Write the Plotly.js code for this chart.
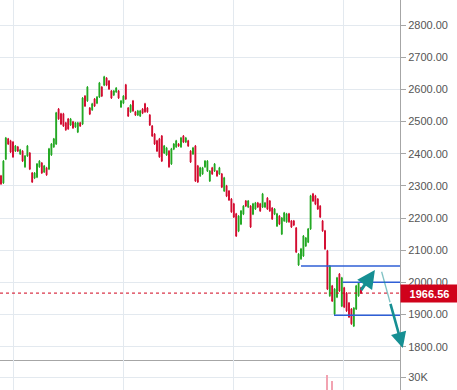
<!DOCTYPE html>
<html><head><meta charset="utf-8">
<script src="https://cdn.plot.ly/plotly-3.0.1.min.js"></script>
<style>html,body{margin:0;padding:0;background:#fff;}#chart{width:457px;height:390px;}</style>
</head><body><div id="chart"></div>
<script>
const openP = [
2331,2309,2383,2446,2440,2436,2408,2421,2399,2408,
2359,2393,2402,2340,2324,2327,2359,2371,2343,2356,
2352,2396,2421,2430,2539,2524,2524,2496,2508,2489,
2499,2483,2467,2496,2492,2579,2564,2542,2536,2570,
2557,2576,2607,2613,2635,2626,2595,2582,2592,2595,
2545,2557,2614,2542,2530,2564,2530,2520,2517,2539,
2555,2542,2520,2486,2461,2440,2446,2455,2402,2396,
2408,2368,2414,2421,2430,2421,2455,2436,2440,2408,
2399,2424,2362,2331,2337,2359,2346,2315,2356,2346,
2346,2337,2337,2284,2300,2284,2259,2244,2213,2159,
2181,2212,2253,2234,2237,2212,2228,2247,2244,2234,
2234,2262,2253,2231,2212,2175,2206,2150,2191,2188,
2213,2191,2191,2169,2054,2073,2082,2113,2125,2166,
2275,2269,2259,2237,2191,2160,2098,1958,1989,1901,
1954,2026,1926,1983,1967,1936,1917,1864,1917,1958,
1983];
const highP = [
2334,2380,2452,2449,2443,2439,2427,2424,2415,2411,
2396,2427,2405,2343,2343,2371,2380,2374,2365,2359,
2418,2433,2449,2530,2542,2527,2527,2499,2511,2511,
2502,2499,2499,2499,2576,2582,2610,2545,2558,2573,
2579,2623,2610,2642,2638,2629,2598,2598,2607,2598,
2567,2582,2617,2545,2554,2567,2533,2536,2536,2542,
2558,2545,2523,2489,2464,2443,2449,2458,2427,2421,
2411,2418,2433,2443,2433,2452,2458,2452,2443,2411,
2421,2427,2365,2359,2359,2380,2380,2349,2359,2371,
2349,2359,2340,2328,2303,2287,2262,2247,2216,2209,
2225,2240,2256,2256,2240,2247,2250,2250,2247,2278,
2250,2265,2256,2234,2231,2216,2209,2203,2219,2216,
2216,2194,2194,2172,2091,2107,2147,2141,2169,2272,
2278,2272,2262,2240,2194,2163,2101,2054,1992,1982,
2017,2029,2017,1986,1970,1939,1920,1923,1992,2001,
1986];
const lowP = [
2303,2306,2380,2427,2402,2387,2405,2405,2396,2374,
2356,2390,2349,2309,2321,2324,2356,2337,2340,2331,
2349,2393,2418,2427,2505,2489,2483,2471,2474,2486,
2477,2480,2464,2483,2489,2545,2561,2520,2533,2545,
2554,2573,2576,2610,2610,2598,2570,2579,2589,2570,
2542,2554,2567,2514,2527,2530,2517,2517,2514,2523,
2527,2527,2486,2452,2427,2405,2387,2374,2399,2393,
2356,2365,2411,2418,2421,2418,2433,2433,2421,2371,
2396,2312,2309,2328,2334,2356,2343,2312,2334,2343,
2328,2334,2293,2281,2265,2253,2216,2200,2141,2156,
2178,2209,2234,2231,2169,2209,2225,2231,2219,2231,
2231,2225,2219,2194,2209,2172,2178,2147,2188,2185,
2185,2169,2175,2091,2051,2070,2079,2110,2122,2163,
2250,2240,2225,2200,2157,2101,1976,1955,1939,1898,
1951,1970,1923,1920,1908,1889,1868,1861,1914,1955,
1964];
const closeP = [
2306,2377,2449,2430,2405,2390,2424,2408,2412,2377,
2393,2424,2352,2312,2340,2368,2377,2340,2362,2334,
2415,2430,2446,2527,2508,2492,2486,2474,2477,2508,
2480,2496,2496,2486,2573,2548,2607,2523,2555,2548,
2576,2620,2579,2639,2613,2601,2573,2595,2604,2573,
2564,2579,2570,2517,2551,2533,2520,2533,2533,2526,
2530,2530,2489,2455,2430,2408,2390,2377,2424,2418,
2359,2415,2430,2440,2424,2449,2436,2449,2424,2374,
2418,2315,2312,2356,2356,2377,2377,2346,2337,2368,
2331,2356,2296,2325,2268,2256,2219,2203,2144,2206,
2222,2237,2237,2253,2172,2244,2247,2234,2222,2275,
2247,2228,2222,2197,2228,2213,2181,2200,2216,2213,
2188,2172,2178,2094,2088,2104,2144,2138,2166,2269,
2253,2243,2228,2203,2160,2104,1979,2051,1942,1979,
2014,1973,2014,1923,1911,1892,1871,1920,1989,1998,
1966.56];
const volume = [
14200,15800,17100,12300,11800,13400,10900,9800,11200,12600,
13100,12800,14900,15300,11700,12200,10600,11900,10400,12800,
15600,14100,13300,19800,16200,12900,13700,11800,10900,11400,
10700,9900,12100,10300,17600,14800,15900,12400,11300,12700,
10800,16400,13200,14600,13900,12100,13800,10600,11200,12900,
13500,11700,14300,15100,12200,13600,11900,10300,10800,11600,
12400,11100,14700,16300,15200,14100,16800,17400,12900,11800,
15100,13600,11200,10900,9800,12300,11400,10600,11700,15600,
12100,18900,16700,12600,11300,12200,12800,13400,11100,10900,
11600,10400,14800,15200,16100,15400,17300,16600,19200,15800,
14100,12600,11300,10800,15900,12400,10700,10200,11600,14900,
11300,12900,12100,14400,11700,15300,13200,14800,12300,11900,
12600,13800,12100,19600,18800,16200,15400,13100,14600,20100,
15300,13900,14200,15600,17800,19900,31200,21400,27500,19600,
18200,17400,18800,16900,15700,17300,19400,18600,16200,14800,
12300];
const lastPrice = 1966.56;
const levelValues = [2051, 2000, 1898];
const levelStarts = [125, 142.4, 138.75];
const arrowTails = [[149.6, 1971], [162.1, 1938]];
const arrowHeads = [[155.8, 2038], [167.4, 1796]];
const fadedTail = [158.6, 2033];
const volTickVals = [30000];
const volTickText = ['30K'];

const xIdx = openP.map((_, i) => i);
const xMin = -0.4167, xMax = 166.25;
const upColor = '#1ea61e', downColor = '#d2062c';
const gridColor = '#e3e9ef', axisColor = '#a6a6a6';
const teal = '#168f93';
const fontFam = 'Liberation Sans, Arial, sans-serif';

const volColors = closeP.map((c, i) => c >= openP[i] ? 'rgba(30,166,30,0.35)' : '#f2a3b1');

const traces = [
  {type:'candlestick', x:xIdx, open:openP, high:highP, low:lowP, close:closeP,
   xaxis:'x', yaxis:'y', whiskerwidth:0,
   increasing:{line:{color:upColor, width:1}, fillcolor:upColor},
   decreasing:{line:{color:downColor, width:1}, fillcolor:downColor},
   hoverinfo:'skip', showlegend:false},
  {type:'bar', x:xIdx, y:volume, xaxis:'x2', yaxis:'y2', width:0.8,
   marker:{color:volColors, line:{width:0}}, hoverinfo:'skip', showlegend:false}
];

const shapes = [
  {type:'line', xref:'x', yref:'y', x0:xMin, x1:xMax, y0:lastPrice, y1:lastPrice,
   line:{color:'#d0021b', width:1, dash:'dot'}}
];
levelValues.forEach((v, k) => shapes.push({type:'line', xref:'x', yref:'y',
  x0:levelStarts[k], x1:xMax, y0:v, y1:v, line:{color:'#2f5fd6', width:1.5}}));
shapes.push({type:'line', xref:'x', yref:'y', x0:fadedTail[0], y0:fadedTail[1],
  x1:arrowTails[1][0], y1:arrowTails[1][1], line:{color:'rgba(22,143,147,0.55)', width:1.3}});

const annotations = [
  {xref:'paper', x:1, xanchor:'left', yref:'y', y:lastPrice, yanchor:'middle',
   text:'<b>' + lastPrice.toFixed(2) + '</b>', showarrow:false, bgcolor:'#d0021b',
   font:{color:'#ffffff', size:11, family:fontFam}, width:53, height:13, borderpad:2, align:'center'}
];
arrowHeads.forEach((h, k) => annotations.push({
  xref:'x', yref:'y', axref:'x', ayref:'y', x:h[0], y:h[1], ax:arrowTails[k][0], ay:arrowTails[k][1],
  text:'', showarrow:true, arrowhead:2, arrowsize:1.2, arrowwidth:k === 0 ? 3 : 2.6, arrowcolor:teal, standoff:0
}));

const layout = {
  width:457, height:390, margin:{l:0, r:57, t:0, b:0},
  paper_bgcolor:'#ffffff', plot_bgcolor:'#ffffff', showlegend:false,
  hovermode:false, boxgap:0.5, bargap:0,
  font:{family:fontFam, size:11, color:'#555555'},
  xaxis:{domain:[0,1], anchor:'y', range:[xMin, xMax], rangeslider:{visible:false},
    showticklabels:false, ticks:'', tick0:5, dtick:45.8333, showgrid:true, gridcolor:gridColor,
    zeroline:false, showline:true, linecolor:axisColor, linewidth:1},
  xaxis2:{domain:[0,1], anchor:'y2', matches:'x', range:[xMin, xMax], rangeslider:{visible:false},
    showticklabels:false, ticks:'', tick0:5, dtick:45.8333, showgrid:true, gridcolor:gridColor,
    zeroline:false, showline:false},
  yaxis:{domain:[30/390, 1], anchor:'x', side:'right', range:[1758.6, 2877.7],
    tick0:1800, dtick:100, tickformat:'.2f', ticks:'outside', ticklen:5, tickcolor:axisColor,
    showline:true, linecolor:axisColor, linewidth:1, showgrid:true, gridcolor:gridColor, zeroline:false,
    tickfont:{family:fontFam, size:11, color:'#555555'}},
  yaxis2:{domain:[0, 30/390], anchor:'x2', side:'right', range:[22000, 40460],
    tickvals:volTickVals, ticktext:volTickText, ticks:'outside', ticklen:5, tickcolor:axisColor,
    showline:true, linecolor:axisColor, linewidth:1, showgrid:true, gridcolor:gridColor, zeroline:false,
    tickfont:{family:fontFam, size:11, color:'#555555'}},
  shapes:shapes, annotations:annotations
};

Plotly.newPlot('chart', traces, layout, {staticPlot:true, displayModeBar:false});
</script></body></html>
